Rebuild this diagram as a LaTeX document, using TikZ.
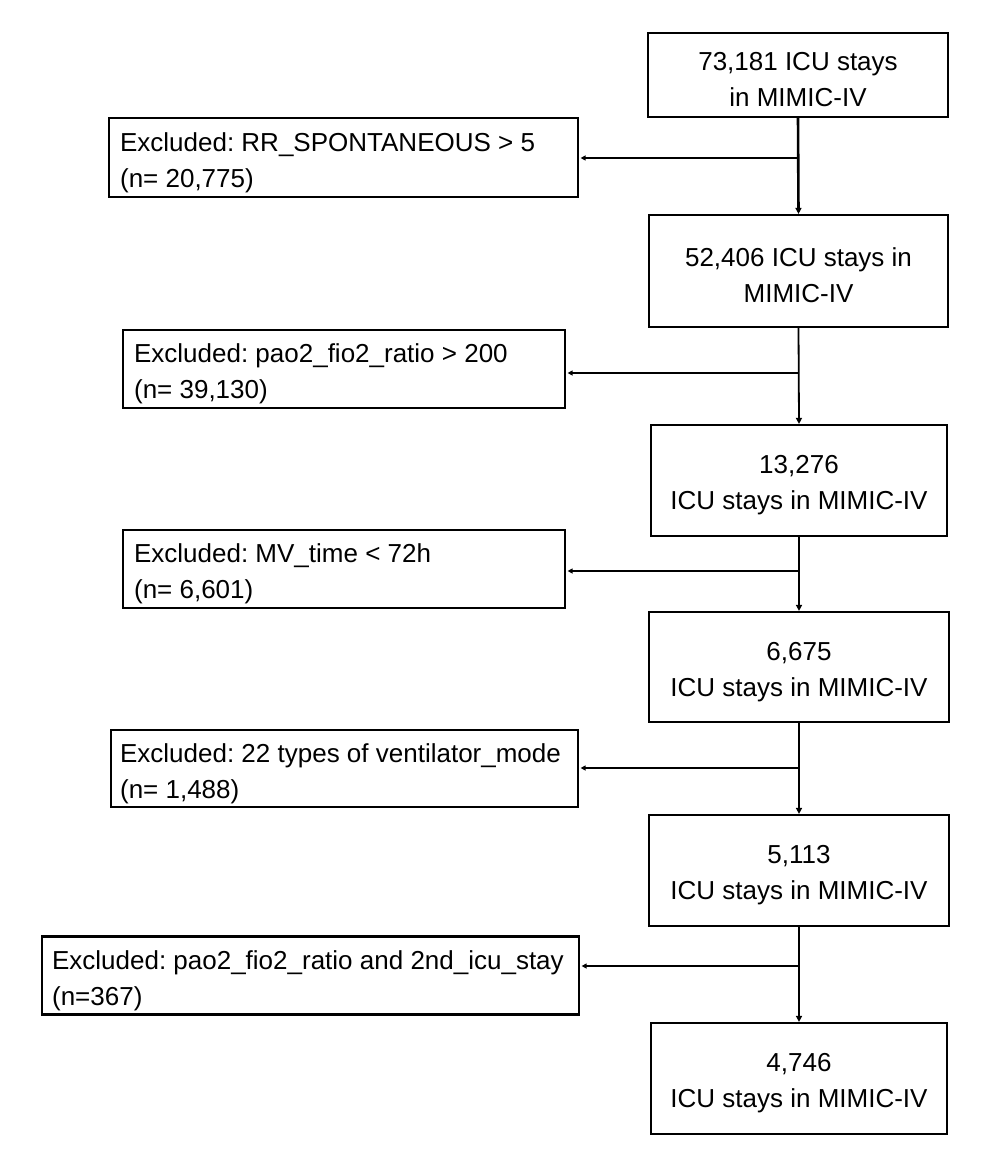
\documentclass[tikz,border=0pt]{standalone}
\usepackage{fontspec}
\setmainfont{Liberation Sans}
\usetikzlibrary{arrows.meta}
\newcommand{\lowstrut}{\rule{0pt}{28pt}}
\begin{document}
\frenchspacing
\begin{tikzpicture}[x=1pt,y=-1pt,
  every node/.style={font=\fontsize{26}{36}\selectfont},
  mainbox/.style={draw=black,line width=2.2pt,align=center,inner sep=0pt},
  exbox/.style={draw=black,line width=2.2pt,inner sep=0pt},
  extext/.style={anchor=west,align=left,inner sep=0pt,font=\fontsize{26}{36}\selectfont},
  flow/.style={line width=1.8pt,-{Triangle[length=6pt,width=6pt]}},
  flowthick/.style={line width=2.6pt,-{Triangle[length=6pt,width=6pt]}},
  branch/.style={line width=1.8pt,-{Triangle[length=5pt,width=5pt]},shorten >=1.5pt}]
\useasboundingbox (0,0) rectangle (996,1158);
\fill[white] (0,0) rectangle (996,1158);

\node[mainbox,minimum width=300pt,minimum height=84pt] (m1) at (798,75) {\lowstrut 73,181 ICU stays\\in MIMIC-IV};
\node[mainbox,minimum width=299pt,minimum height=112pt] (m2) at (798.5,271) {\lowstrut 52,406 ICU stays in\\MIMIC-IV};
\node[mainbox,minimum width=296pt,minimum height=111pt] (m3) at (799,480.5) {\lowstrut 13,276\\ICU stays in MIMIC-IV};
\node[mainbox,minimum width=300pt,minimum height=110pt] (m4) at (799,667) {\lowstrut 6,675\\ICU stays in MIMIC-IV};
\node[mainbox,minimum width=300pt,minimum height=111pt] (m5) at (799,870.5) {\lowstrut 5,113\\ICU stays in MIMIC-IV};
\node[mainbox,minimum width=296pt,minimum height=111pt] (m6) at (799,1078.5) {\lowstrut 4,746\\ICU stays in MIMIC-IV};

\node[exbox,minimum width=469pt,minimum height=79pt] (e1) at (343.5,157.5) {};
\node[exbox,minimum width=442pt,minimum height=78pt] (e2) at (344,369) {};
\node[exbox,minimum width=442pt,minimum height=78pt] (e3) at (344,569) {};
\node[exbox,minimum width=467pt,minimum height=77pt] (e4) at (344.5,768.5) {};
\node[exbox,minimum width=537pt,minimum height=78pt] (e5) at (310.5,975.5) {};

\node[extext] (t1) at ([xshift=12pt,yshift=-5pt]e1.west) {Excluded: RR\_SPONTANEOUS > 5\\(n= 20,775)};
\node[extext] (t2) at ([xshift=12pt,yshift=-5pt]e2.west) {Excluded: pao2\_fio2\_ratio > 200\\(n= 39,130)};
\node[extext] (t3) at ([xshift=12pt,yshift=-5pt]e3.west) {Excluded: MV\_time < 72h\\(n= 6,601)};
\node[extext] (t4) at ([xshift=10pt,yshift=-5pt]e4.west) {Excluded: 22 types of ventilator\_mode\\(n= 1,488)};
\node[extext] (t5) at ([xshift=11pt,yshift=-5pt]e5.west) {Excluded: pao2\_fio2\_ratio and 2nd\_icu\_stay\\(n=367)};

\coordinate (j1) at (798,158);
\coordinate (j2) at (798,373);
\coordinate (j3) at (799,571);
\coordinate (j4) at (799,768);
\coordinate (j5) at (799,966);

\draw[flowthick] (m1.south) -- (m2.north);
\draw[flow] (m2.south) -- (m3.north);
\draw[flow] (m3.south) -- (m4.north);
\draw[flowthick] (m4.south) -- (m5.north);
\draw[flow] (m5.south) -- (m6.north);

\draw[branch] (j1) -- (j1 -| e1.east);
\draw[branch] (j2) -- (j2 -| e2.east);
\draw[branch] (j3) -- (j3 -| e3.east);
\draw[branch] (j4) -- (j4 -| e4.east);
\draw[branch] (j5) -- (j5 -| e5.east);
\end{tikzpicture}
\end{document}
